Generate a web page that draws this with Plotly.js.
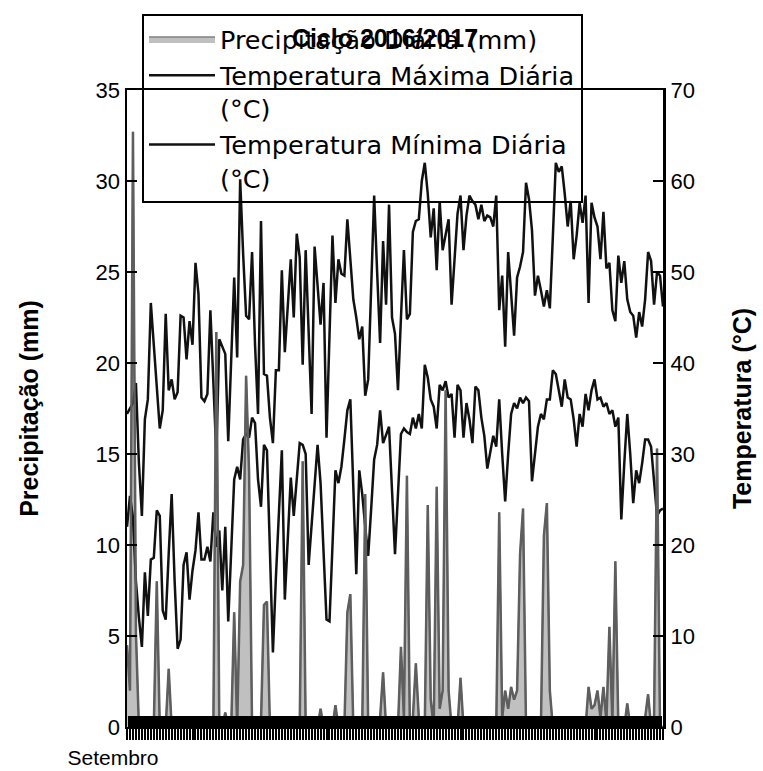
<!DOCTYPE html>
<html><head><meta charset="utf-8">
<script src="https://cdn.plot.ly/plotly-3.0.1.min.js"></script>
<style>body{margin:0;background:#fff}#chart{width:763px;height:771px}</style>
</head><body><div id="chart"></div>
<script>
// Daily values, 1 Sep 2016 onwards (day index 0..180)
const precipitacao = [
 4.5, 2.0, 32.7, 5.2, 0, 0, 0, 0, 0, 0,
 8.0, 0, 0, 0, 3.2, 0, 0, 0, 0, 0,
 0, 0, 0, 0, 0, 0, 0, 0.2, 0.3, 0,
 21.7, 0, 0, 0.8, 0, 0, 6.3, 0, 8.0, 8.9,
 19.3, 14.0, 0, 0, 0.5, 0.3, 6.7, 6.9, 0, 0,
 0, 0, 0, 0.5, 0, 0, 0, 0, 0, 14.6,
 0, 0, 0, 0, 0, 1.0, 0, 0, 0, 0,
 1.2, 0, 0, 0, 6.3, 7.3, 0, 0, 0, 0,
 12.8, 0, 0, 0, 0, 0.5, 3.0, 0, 0, 0,
 0, 0, 4.4, 0.5, 13.8, 0, 0.5, 3.5, 0.5, 0,
 0, 12.2, 1.5, 0, 13.2, 1.0, 2.0, 18.5, 2.0, 0,
 0, 0, 2.7, 0, 0, 0, 0, 0, 0.3, 0,
 0, 0, 0, 0, 0, 11.8, 0.5, 2.0, 1.0, 2.2,
 1.5, 2.0, 9.5, 12.0, 0, 0, 0, 0, 0, 0,
 10.5, 12.3, 2.0, 0, 0, 0, 0, 0, 0, 0,
 0.3, 0, 0, 0, 0, 2.2, 1.0, 1.2, 2.0, 0.5,
 2.2, 0.3, 5.5, 0.3, 9.1, 0, 0, 0, 1.3, 0,
 0, 0, 0, 0, 0.5, 1.8, 0, 0.5, 15.3, 0,
 0
];
const tempMax = [
 17.2, 17.5, 17.8, 18.9, 14.5, 11.6, 16.9, 18.0, 23.3, 21.0,
 18.5, 16.4, 17.4, 22.7, 18.5, 19.1, 18.0, 18.4, 22.6, 22.5,
 20.2, 22.3, 21.0, 25.5, 23.8, 18.1, 17.9, 18.3, 22.9, 19.2,
 15.0, 21.3, 20.9, 20.5, 15.7, 20.0, 24.7, 20.3, 30.1, 26.0,
 22.6, 22.4, 26.1, 21.0, 17.2, 27.8, 19.4, 19.3, 17.0, 15.6,
 19.6, 19.6, 25.1, 20.6, 23.0, 25.7, 22.5, 27.1, 25.8, 19.9,
 26.2, 21.5, 17.2, 26.4, 24.0, 22.1, 24.4, 15.9, 21.5, 27.0,
 23.3, 25.7, 24.9, 24.8, 27.9, 25.5, 23.5, 22.5, 21.3, 22.0,
 18.2, 19.1, 24.0, 29.2, 25.0, 21.1, 26.7, 23.2, 28.7, 22.5,
 21.6, 18.5, 22.5, 26.2, 22.4, 22.7, 27.2, 27.8, 27.9, 30.0,
 31.0, 29.3, 26.9, 28.5, 25.1, 28.9, 26.2, 27.0, 27.9, 23.2,
 26.0, 28.2, 29.2, 26.2, 28.1, 29.2, 28.9, 28.7, 27.9, 28.7,
 27.8, 28.1, 28.0, 27.5, 29.2, 22.9, 24.8, 20.9, 26.1, 24.0,
 21.5, 24.7, 25.3, 26.1, 29.9, 29.0, 27.3, 23.7, 24.8, 24.0,
 23.1, 24.0, 23.0, 26.9, 31.0, 30.5, 30.8, 29.3, 27.5, 28.9,
 25.7, 27.0, 28.8, 27.7, 29.2, 23.3, 28.8, 28.0, 27.5, 25.7,
 28.3, 25.2, 25.5, 22.9, 22.3, 25.9, 24.4, 25.6, 23.5, 22.8,
 22.6, 21.4, 22.8, 22.0, 23.5, 26.1, 25.6, 23.2, 25.0, 24.8,
 23.1
];
const tempMin = [
 11.0, 12.7, 11.5, 8.0, 6.0, 4.4, 8.5, 6.1, 9.2, 9.3,
 11.9, 11.6, 6.4, 5.9, 9.5, 12.8, 8.0, 4.3, 4.8, 8.9,
 9.6, 7.0, 8.6, 9.7, 11.8, 9.2, 9.2, 9.9, 9.1, 11.8,
 9.9, 10.8, 7.5, 11.0, 5.8, 9.4, 13.6, 14.3, 13.6, 15.8,
 16.1, 15.9, 17.0, 16.7, 13.6, 12.1, 15.5, 15.2, 10.0, 4.1,
 8.2, 12.0, 15.2, 7.0, 10.5, 13.7, 11.6, 13.5, 15.6, 15.5,
 15.0, 8.9, 11.0, 13.5, 15.5, 13.4, 9.5, 5.9, 5.8, 10.0,
 14.1, 13.4, 14.3, 15.8, 17.4, 18.0, 13.0, 8.4, 14.1, 12.8,
 11.0, 9.4, 12.0, 14.7, 15.5, 17.4, 15.6, 16.0, 16.5, 13.0,
 9.5, 12.8, 16.1, 16.4, 16.2, 16.1, 17.0, 16.4, 17.2, 16.4,
 19.9, 19.2, 18.0, 17.6, 16.4, 18.8, 18.5, 19.0, 18.1, 18.3,
 15.9, 18.8, 18.5, 15.9, 17.8, 16.9, 15.6, 18.7, 18.5, 17.0,
 16.0, 14.2, 15.0, 16.0, 15.4, 18.0, 15.0, 12.4, 15.0, 17.2,
 17.8, 17.5, 18.1, 17.8, 18.1, 17.9, 13.5, 15.0, 16.5, 17.2,
 16.9, 18.0, 18.0, 19.6, 19.4, 18.5, 17.6, 19.1, 18.1, 18.0,
 16.9, 15.4, 17.2, 16.5, 18.3, 17.4, 18.5, 19.1, 18.0, 18.1,
 17.6, 17.8, 17.2, 17.4, 16.5, 17.0, 11.4, 14.5, 17.2, 15.0,
 12.3, 14.1, 13.4, 14.5, 15.8, 15.8, 15.4, 13.5, 11.6, 11.9,
 12.0
];
const monthLabels = ['Setembro'];
const monthStartDay = [0];
const seriesNames = ['Precipitação Diária (mm)', 'Temperatura Máxima Diária<br>(°C)', 'Temperatura Mínima Diária<br>(°C)'];

const days = tempMax.map((_, i) => i);
const tickText = days.map(d => { const k = monthStartDay.indexOf(d); return k >= 0 ? monthLabels[k] : ''; });

const traces = [
  {x: days, y: precipitacao, name: seriesNames[0], type: 'scatter', mode: 'lines', fill: 'tozeroy',
   fillcolor: '#c0c0c0', line: {color: '#808080', width: 1.5}, hoverinfo: 'skip'},
  {x: days, y: tempMax, name: seriesNames[1], type: 'scatter', mode: 'lines', line: {color: '#111111', width: 2.5}},
  {x: days, y: tempMin, name: seriesNames[2], type: 'scatter', mode: 'lines', line: {color: '#111111', width: 2.5}},
  {x: days, y: precipitacao, type: 'scatter', mode: 'lines', line: {color: '#5e5e5e', width: 2.5}, showlegend: false, hoverinfo: 'skip'},
  {x: [0], y: [null], xaxis: 'x2', yaxis: 'y2', type: 'scatter', mode: 'lines', showlegend: false, hoverinfo: 'skip'}
];

const layout = {
  width: 763, height: 771,
  margin: {l: 127, r: 100, t: 90, b: 44},
  paper_bgcolor: '#ffffff', plot_bgcolor: '#ffffff',
  showlegend: true,
  title: {text: '<b>Ciclo 2016/2017</b>', font: {family: 'Liberation Sans, Arial, sans-serif', size: 25, color: '#000'},
          x: 385 / 763, xref: 'container', xanchor: 'center', y: 1 - 38 / 771, yref: 'container', yanchor: 'middle'},
  legend: {x: 0.028, y: 1.1193, xanchor: 'left', yanchor: 'top', bgcolor: 'rgba(0,0,0,0)',
           bordercolor: '#000', borderwidth: 2, font: {family: 'DejaVu Sans', size: 25.5, color: '#000'},
           itemwidth: 66, tracegroupgap: 0, valign: 'top'},
  xaxis: {range: [0, 180], tickmode: 'array', tickvals: days, ticktext: tickText, ticks: 'outside', ticklen: 11,
          tickwidth: 2, tickcolor: '#000', showline: true, linecolor: '#000', linewidth: 2, mirror: true,
          showgrid: false, zeroline: false, tickfont: {family: 'Liberation Sans, Arial', size: 21, color: '#000'},
          ticklabelshift: -14, fixedrange: true},
  xaxis2: {overlaying: 'x', anchor: 'y', side: 'bottom', range: [0, 180], tickmode: 'array', tickvals: days,
           ticks: 'inside', ticklen: 11, tickwidth: 3.2, tickcolor: '#000', showticklabels: false, showline: false,
           showgrid: false, zeroline: false},
  yaxis: {range: [0, 35], tickmode: 'linear', tick0: 0, dtick: 5, ticks: 'inside', ticklen: 10, tickwidth: 2, tickcolor: '#000',
          showline: true, linecolor: '#000', linewidth: 2.5, showgrid: false, zeroline: false,
          tickfont: {family: 'Liberation Sans, Arial', size: 22, color: '#000'},
          title: {text: '<b>Precipitação (mm)</b>', font: {family: 'Liberation Sans, Arial', size: 25, color: '#000'}, standoff: 50}},
  yaxis2: {overlaying: 'y', side: 'right', anchor: 'x', range: [0, 70], tickmode: 'linear', tick0: 0, dtick: 10,
           ticks: 'inside', ticklen: 10, tickwidth: 2, tickcolor: '#000', showline: true, linecolor: '#000', linewidth: 3,
           showgrid: false, zeroline: false, tickfont: {family: 'Liberation Sans, Arial', size: 22, color: '#000'},
           title: {text: '<b>Temperatura (°C)</b>', font: {family: 'Liberation Sans, Arial', size: 25, color: '#000'}, standoff: 40}}
};

Plotly.newPlot('chart', traces, layout, {staticPlot: true, displayModeBar: false});
</script>
</body></html>
